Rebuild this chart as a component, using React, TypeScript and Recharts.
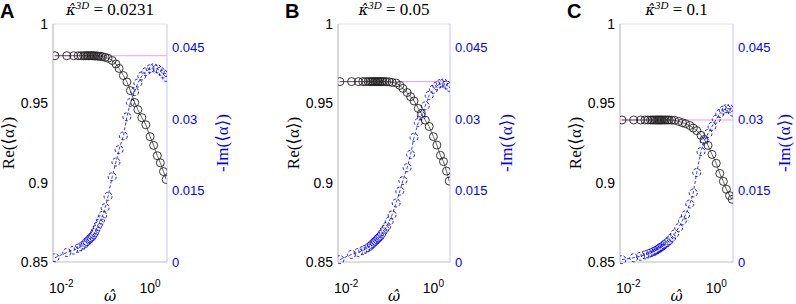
import { ComposedChart, Line, ReferenceLine, XAxis, YAxis } from "recharts";

const omega = [
  0.0072, 0.0133, 0.019, 0.024, 0.028, 0.032, 0.035, 0.038, 0.041, 0.044, 0.047, 0.05, 0.053,
  0.056, 0.06, 0.065, 0.07, 0.077, 0.085, 0.097, 0.113, 0.14, 0.17, 0.2, 0.25, 0.3, 0.36, 0.45,
  0.53, 0.65, 0.8, 1.0, 1.2, 1.45, 1.7, 2.0, 2.3,
];

const reA = [
  0.98, 0.98, 0.98, 0.98, 0.98, 0.98, 0.98, 0.98, 0.98, 0.98, 0.98, 0.98, 0.98, 0.9799, 0.9799,
  0.9798, 0.9797, 0.9796, 0.9794, 0.979, 0.9784, 0.977, 0.9748, 0.972, 0.9675, 0.9635, 0.958,
  0.9505, 0.946, 0.941, 0.9365, 0.929, 0.9235, 0.917, 0.9125, 0.907, 0.902,
];
const imA = [
  0.0009, 0.002, 0.0025, 0.0029, 0.0032, 0.0036, 0.004, 0.0043, 0.0046, 0.0049, 0.0051, 0.0054,
  0.0058, 0.0062, 0.0068, 0.0075, 0.0081, 0.0089, 0.0098, 0.0114, 0.0138, 0.0179, 0.021, 0.0236,
  0.0265, 0.0305, 0.0335, 0.0358, 0.0376, 0.0391, 0.04, 0.0406, 0.0408, 0.0406, 0.0401, 0.0395,
  0.0388,
];

const reB = [
  0.9637, 0.9637, 0.9637, 0.9637, 0.9637, 0.9637, 0.9637, 0.9637, 0.9637, 0.9637, 0.9637, 0.9637,
  0.9637, 0.9637, 0.9637, 0.9637, 0.9637, 0.9637, 0.9636, 0.9635, 0.9632, 0.9628, 0.9613, 0.9594,
  0.9568, 0.9542, 0.9515, 0.9468, 0.9437, 0.9394, 0.9354, 0.929, 0.9237, 0.9172, 0.9133, 0.9073,
  0.901,
];
const imB = [
  0.0005, 0.0016, 0.002, 0.0024, 0.0027, 0.003, 0.0033, 0.0036, 0.0039, 0.0042, 0.0044, 0.0047,
  0.0049, 0.0051, 0.0054, 0.0059, 0.0064, 0.0069, 0.0075, 0.0086, 0.0099, 0.0124, 0.0149, 0.0171,
  0.0198, 0.0226, 0.0262, 0.0293, 0.0307, 0.0328, 0.035, 0.0363, 0.037, 0.0375, 0.0376, 0.0372,
  0.0367,
];

const reC = [
  0.9395, 0.9395, 0.9395, 0.9395, 0.9395, 0.9395, 0.9395, 0.9395, 0.9395, 0.9395, 0.9395, 0.9395,
  0.9395, 0.9395, 0.9395, 0.9395, 0.9395, 0.9395, 0.9395, 0.9394, 0.9393, 0.9386, 0.9378, 0.9372,
  0.936, 0.9344, 0.9328, 0.9298, 0.9272, 0.9235, 0.9178, 0.9122, 0.9058, 0.9008, 0.8958, 0.8919,
  0.8895,
];
const imC = [
  0.0005, 0.0009, 0.0012, 0.0015, 0.0017, 0.0019, 0.002, 0.0022, 0.0023, 0.0025, 0.0026, 0.0028,
  0.003, 0.0031, 0.0033, 0.0036, 0.0038, 0.0041, 0.0045, 0.0051, 0.0059, 0.0072, 0.0087, 0.0099,
  0.0122, 0.0145, 0.0188, 0.0232, 0.0254, 0.027, 0.0285, 0.03, 0.0312, 0.0319, 0.0322, 0.0322,
  0.0315,
];

const panelLetters = ["A", "B", "C"];
const kappaLabels = ["0.0231", "0.05", "0.1"];
const staticRe = [0.98, 0.9637, 0.9395];
const reTicks = [0.85, 0.9, 0.95, 1];
const imTicks = [0, 0.015, 0.03, 0.045];
const omegaTicks = [0.01, 1];

const SANS = "'Liberation Sans', Arial, sans-serif";
const SERIF = "'Liberation Serif', 'DejaVu Serif', serif";
const MATH = "'DejaVu Serif', serif";
const BLUE = "#0000ff";

const LogTick = (props: any) => {
  const { x, y, payload } = props;
  const exp = Math.round(Math.log10(payload.value));
  return (
    <text x={x} y={y + 23} textAnchor="middle" fontFamily={SANS} fontSize={14} fill="#000">
      <tspan>10</tspan>
      <tspan dy={-6} fontSize={10}>
        {`${exp}`}
      </tspan>
    </text>
  );
};

const OmegaLabel = ({ viewBox }: any) => (
  <text
    x={viewBox.x + viewBox.width / 2}
    y={viewBox.y + viewBox.height - 3}
    textAnchor="middle"
    fontFamily={MATH}
    fontStyle="italic"
    fontSize={15}
    fill="#000"
  >
    ω̂
  </text>
);

type PanelProps = {
  index: number;
  left: number;
  plotW: number;
  rightW: number;
  re: number[];
  im: number[];
  rightLabelOff: number;
};

function Panel({ index, left, plotW, rightW, re, im, rightLabelOff }: PanelProps) {
  const data = omega.map((w, i) => ({ w, re: re[i], im: im[i] }));
  const width = 53 + plotW + rightW;
  const cx = left + 53 + plotW / 2;

  return (
    <>
      <div
        style={{
          position: "absolute",
          left: index === 0 ? 0 : left,
          top: 1,
          fontFamily: SANS,
          fontWeight: "bold",
          fontSize: 20,
          lineHeight: "20px",
        }}
      >
        {panelLetters[index]}
      </div>
      <div
        style={{
          position: "absolute",
          left: cx - 100,
          width: 200,
          top: 1,
          textAlign: "center",
          fontFamily: SERIF,
          fontSize: 17,
          lineHeight: "17px",
          whiteSpace: "nowrap",
        }}
      >
        <span style={{ fontFamily: MATH, fontStyle: "italic", fontSize: 15 }}>κ̂</span>
        <span
          style={{
            fontSize: 11,
            lineHeight: "11px",
            fontStyle: "italic",
            position: "relative",
            top: -6,
          }}
        >
          3D
        </span>{" "}
        = {kappaLabels[index]}
      </div>
      <div style={{ position: "absolute", left, top: 0 }}>
        <ComposedChart
          width={width}
          height={304}
          data={data}
          margin={{ top: 24, right: 0, bottom: 0, left: 0 }}
        >
          <XAxis
            dataKey="w"
            type="number"
            scale="log"
            domain={[0.0065, 2.4]}
            ticks={omegaTicks}
            allowDataOverflow
            height={42}
            tickLine={false}
            axisLine={{ stroke: "#bdbdbd" }}
            tick={<LogTick />}
            label={<OmegaLabel />}
          />
          <YAxis
            yAxisId="left"
            domain={[0.85, 1]}
            ticks={reTicks}
            width={53}
            tickLine={false}
            tickSize={3}
            tickMargin={2}
            axisLine={{ stroke: "#b0b0b0" }}
            tick={{ fontFamily: SANS, fontSize: 14, fill: "#000" }}
            label={({ viewBox }: any) => (
              <text
                x={viewBox.x + 8}
                y={viewBox.y + viewBox.height / 2}
                transform={`rotate(-90 ${viewBox.x + 8} ${viewBox.y + viewBox.height / 2})`}
                textAnchor="middle"
                dominantBaseline="central"
                fontFamily={SERIF}
                fontSize={17}
                fill="#000"
              >
                Re(⟨α⟩)
              </text>
            )}
          />
          <YAxis
            yAxisId="right"
            orientation="right"
            domain={[0, 0.05]}
            ticks={imTicks}
            width={rightW}
            tickLine={false}
            tickSize={3}
            tickMargin={2}
            axisLine={{ stroke: "#c4c4ff" }}
            tick={{ fontFamily: SANS, fontSize: 13, fill: BLUE }}
            label={({ viewBox }: any) => (
              <text
                x={viewBox.x + rightLabelOff}
                y={viewBox.y + viewBox.height / 2}
                transform={`rotate(-90 ${viewBox.x + rightLabelOff} ${viewBox.y + viewBox.height / 2})`}
                textAnchor="middle"
                dominantBaseline="central"
                fontFamily={SERIF}
                fontSize={17}
                fill={BLUE}
              >
                -Im(⟨α⟩)
              </text>
            )}
          />
          <ReferenceLine yAxisId="left" y={1} stroke="#e0e0e0" />
          <ReferenceLine yAxisId="left" y={staticRe[index]} stroke="#f59af0" strokeWidth={1} />
          <Line
            yAxisId="right"
            dataKey="im"
            stroke={BLUE}
            strokeWidth={0.8}
            strokeDasharray="3 2"
            dot={{ r: 4, stroke: BLUE, strokeWidth: 0.9, fill: "none" }}
            isAnimationActive={false}
          />
          <Line
            yAxisId="left"
            dataKey="re"
            stroke="#222"
            strokeWidth={0.7}
            dot={{ r: 4, stroke: "#222", strokeWidth: 0.9, fill: "none" }}
            isAnimationActive={false}
          />
        </ComposedChart>
      </div>
    </>
  );
}

export default function App() {
  return (
    <div
      style={{
        position: "absolute",
        left: 0,
        top: 0,
        width: 796,
        height: 304,
        background: "#fff",
        overflow: "hidden",
      }}
    >
      <Panel index={0} left={0} plotW={114} rightW={98} re={reA} im={imA} rightLabelOff={55} />
      <Panel index={1} left={285} plotW={112} rightW={80} re={reB} im={imB} rightLabelOff={56} />
      <Panel index={2} left={567} plotW={113} rightW={63} re={reC} im={imC} rightLabelOff={51} />
    </div>
  );
}
